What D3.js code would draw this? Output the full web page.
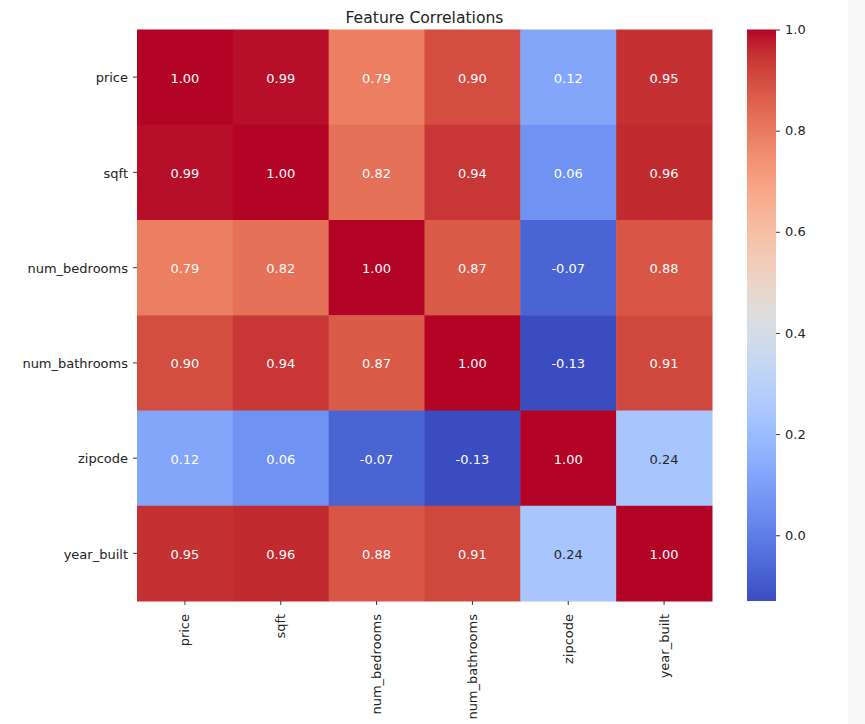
<!DOCTYPE html>
<html><head><meta charset="utf-8">
<script src="https://cdn.jsdelivr.net/npm/d3@7"></script>
<style>body{margin:0;background:#fff;}svg{display:block;font-family:"DejaVu Sans",sans-serif;}</style>
</head><body><svg id="c" width="865" height="724"></svg>
<script>
const features = ["price","sqft","num_bedrooms","num_bathrooms","zipcode","year_built"];
const corrPrice = [1.00, 0.99, 0.79, 0.90, 0.12, 0.95];
const corrSqft = [0.99, 1.00, 0.82, 0.94, 0.06, 0.96];
const corrBedrooms = [0.79, 0.82, 1.00, 0.87, -0.07, 0.88];
const corrBathrooms = [0.90, 0.94, 0.87, 1.00, -0.13, 0.91];
const corrZipcode = [0.12, 0.06, -0.07, -0.13, 1.00, 0.24];
const corrYearBuilt = [0.95, 0.96, 0.88, 0.91, 0.24, 1.00];
const colorbarTicks = [0.0, 0.2, 0.4, 0.6, 0.8, 1.0];
const titleText = "Feature Correlations";

const matrix = [corrPrice, corrSqft, corrBedrooms, corrBathrooms, corrZipcode, corrYearBuilt];
const vmin = d3.min(matrix.flat()), vmax = 1.0;

// matplotlib coolwarm control points
const cw = [[59,76,192],[68,90,204],[77,104,215],[87,117,225],[98,130,234],[108,142,241],[119,154,247],[130,165,251],[141,176,254],[152,185,255],[163,194,255],[174,201,253],[184,208,249],[194,213,244],[204,217,238],[213,219,230],[221,221,221],[229,216,209],[236,211,197],[241,204,185],[245,196,173],[247,187,160],[247,177,148],[247,166,135],[244,154,123],[241,141,111],[236,127,99],[229,112,88],[222,96,77],[213,80,66],[203,62,56],[192,40,47],[180,4,38]];
const coolwarm = d3.piecewise(d3.interpolateRgb, cw.map(c=>d3.rgb(c[0],c[1],c[2])));
const color = v => coolwarm(Math.max(0, Math.min(1, (v - vmin) / (vmax - vmin))));
const fmt2 = v => d3.format(".2f")(v).replace("\u2212", "-");
const fmt1 = v => d3.format(".1f")(v).replace("\u2212", "-");

const svg = d3.select("#c");
svg.append("rect").attr("x",848).attr("y",0).attr("width",17).attr("height",724).attr("fill","#f9f9f9");

const L = 137, R = 712, T = 29.5, B = 601;
const x = d3.scaleBand().domain(features).range([L, R]);
const y = d3.scaleBand().domain(features).range([T, B]);

const cells = [];
matrix.forEach((row, i) => row.forEach((v, j) => cells.push({r: features[i], c: features[j], v})));

svg.append("g").selectAll("rect").data(cells).join("rect")
  .attr("x", d => x(d.c)).attr("y", d => y(d.r))
  .attr("width", x.bandwidth() + 0.5).attr("height", y.bandwidth() + 0.5)
  .attr("fill", d => color(d.v));

function lum(c) {
  const rgb = d3.rgb(c);
  const f = u => { u /= 255; return u <= 0.03928 ? u / 12.92 : Math.pow((u + 0.055) / 1.055, 2.4); };
  return 0.2126 * f(rgb.r) + 0.7152 * f(rgb.g) + 0.0722 * f(rgb.b);
}

svg.append("g").selectAll("text").data(cells).join("text")
  .attr("x", d => x(d.c) + x.bandwidth() / 2)
  .attr("y", d => y(d.r) + y.bandwidth() / 2 + 1)
  .attr("text-anchor", "middle").attr("dominant-baseline", "central")
  .attr("font-size", "13px")
  .attr("fill", d => lum(color(d.v)) > 0.408 ? "#262626" : "#ffffff")
  .text(d => fmt2(d.v));

// axes
const yAxis = svg.append("g").attr("transform", `translate(${L},0)`)
  .call(d3.axisLeft(y).tickSize(4).tickPadding(5));
yAxis.select(".domain").remove();
yAxis.selectAll("line").attr("stroke", "#222").attr("stroke-width", 0.9);
yAxis.selectAll("text").attr("font-size", "13px").attr("fill", "#222").attr("font-family", "DejaVu Sans").attr("dy", "0.4em");

const xAxis = svg.append("g").attr("transform", `translate(0,${B})`)
  .call(d3.axisBottom(x).tickSize(4).tickPadding(5));
xAxis.select(".domain").remove();
xAxis.selectAll("line").attr("stroke", "#222").attr("stroke-width", 0.9);
xAxis.selectAll("text").attr("font-size", "13px").attr("fill", "#222").attr("font-family", "DejaVu Sans")
  .attr("transform", "rotate(-90)").attr("text-anchor", "end")
  .attr("x", -13).attr("y", 0).attr("dy", "0.35em");

// title
svg.append("text").attr("x", (L + R) / 2).attr("y", 23).attr("text-anchor", "middle")
  .attr("font-size", "15.6px").attr("fill", "#222").text(titleText);

// colorbar
const cbX = 747, cbW = 29;
const cy = d3.scaleLinear().domain([vmin, vmax]).range([B, T]);
const defs = svg.append("defs");
const grad = defs.append("linearGradient").attr("id", "cbg").attr("x1", 0).attr("y1", 1).attr("x2", 0).attr("y2", 0);
d3.range(0, 1.0001, 0.02).forEach(t => grad.append("stop").attr("offset", t).attr("stop-color", coolwarm(t)));
svg.append("rect").attr("x", cbX).attr("y", T).attr("width", cbW).attr("height", B - T).attr("fill", "url(#cbg)");
const cAxis = svg.append("g").attr("transform", `translate(${cbX + cbW},0)`)
  .call(d3.axisRight(cy).tickValues(colorbarTicks).tickFormat(fmt1).tickSize(4).tickPadding(5));
cAxis.select(".domain").remove();
cAxis.selectAll("line").attr("stroke", "#222").attr("stroke-width", 0.9);
cAxis.selectAll("text").attr("font-size", "13px").attr("fill", "#222").attr("font-family", "DejaVu Sans");
</script></body></html>
